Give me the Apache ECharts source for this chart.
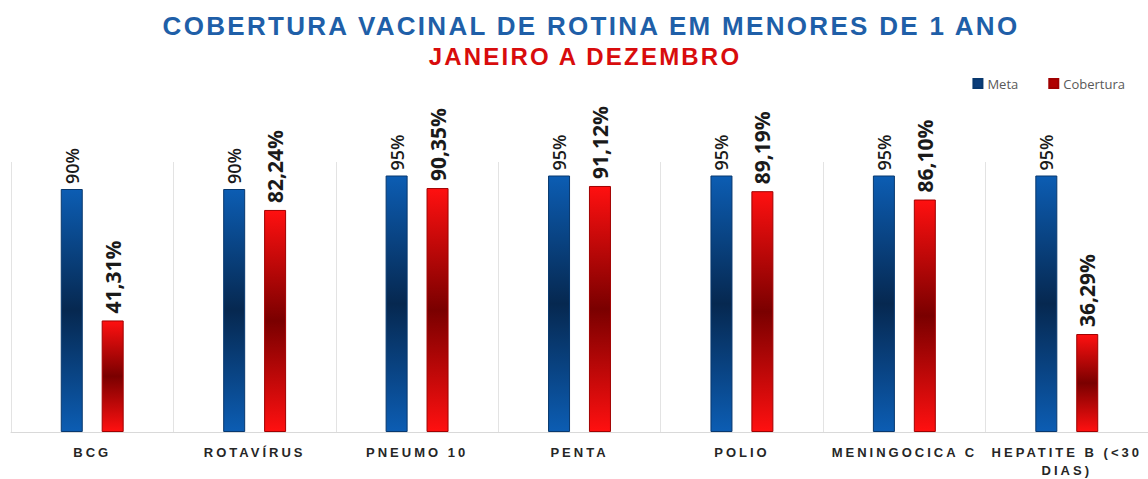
<!DOCTYPE html>
<html>
<head>
<meta charset="utf-8">
<script src="https://cdn.jsdelivr.net/npm/echarts@6/dist/echarts.min.js"></script>
<style>
  html, body { margin: 0; padding: 0; background: #fff; }
  #chart { width: 1148px; height: 479px; }
  /* espaçamento entre letras dos títulos e das categorias */
  #chart text[fill="#1f5fa8"] { letter-spacing: 2.3px; }
  #chart text[fill="#d80c0c"] { letter-spacing: 2.2px; }
  #chart text[fill="#262626"] { letter-spacing: 3px; }
</style>
</head>
<body>
<div id="chart"></div>
<script>
const categories = ['BCG', 'ROTAVÍRUS', 'PNEUMO 10', 'PENTA', 'POLIO', 'MENINGOCICA C', 'HEPATITE B (<30\nDIAS)']
const meta = [90, 90, 95, 95, 95, 95, 95]
const cobertura = [41.31, 82.24, 90.35, 91.12, 89.19, 86.10, 36.29]

const chart = echarts.init(document.querySelector('#chart'), null, { renderer: 'svg' })

// barras com sombreado escuro no meio
function shade(light, dark) {
  return new echarts.graphic.LinearGradient(0, 0, 0, 1, [
    { offset: 0, color: light },
    { offset: 0.5, color: dark },
    { offset: 1, color: light }
  ])
}

const option = {
  title: [
    {
      text: 'COBERTURA VACINAL DE ROTINA EM MENORES DE 1 ANO',
      left: 586, top: 8, textAlign: 'center',
      textStyle: { fontFamily: 'Liberation Sans', fontWeight: 'bold', fontSize: 26, color: '#1f5fa8' }
    },
    {
      text: 'JANEIRO A DEZEMBRO',
      left: 580, top: 39, textAlign: 'center',
      textStyle: { fontFamily: 'Liberation Sans', fontWeight: 'bold', fontSize: 24, color: '#d80c0c' }
    }
  ],
  legend: {
    right: 18, top: 72,
    itemWidth: 9, itemHeight: 9, itemGap: 30,
    icon: 'rect',
    textStyle: { fontFamily: 'Open Sans', fontSize: 13, color: '#595959' },
    data: [
      { name: 'Meta', itemStyle: { color: '#0b3d7a' } },
      { name: 'Cobertura', itemStyle: { color: '#b00000' } }
    ]
  },
  grid: { left: 11, right: 0, top: 162, bottom: 45 },
  xAxis: {
    type: 'category',
    data: categories,
    axisTick: { show: false },
    axisLine: { lineStyle: { color: '#d9d9d9' } },
    splitLine: { show: true, lineStyle: { color: '#e3e3e3' } },
    axisLabel: {
      interval: 0, margin: 11, lineHeight: 18,
      fontFamily: 'Liberation Sans', fontWeight: 'bold', fontSize: 13, color: '#262626'
    }
  },
  yAxis: { type: 'value', min: 0, max: 100, show: false },
  series: [
    {
      name: 'Meta', type: 'bar', data: meta,
      barWidth: 22, barGap: '86%',
      itemStyle: { color: shade('#0c5db3', '#062850'), borderColor: '#08386e', borderWidth: 1 },
      label: {
        show: true, position: 'top', rotate: 90, align: 'left', verticalAlign: 'middle', distance: 5,
        formatter: p => p.value + '%',
        fontFamily: 'Open Sans', fontWeight: 600, fontSize: 18, color: '#1a1a1a'
      }
    },
    {
      name: 'Cobertura', type: 'bar', data: cobertura,
      barWidth: 22,
      itemStyle: { color: shade('#ff1010', '#7a0000'), borderColor: '#a00000', borderWidth: 1 },
      label: {
        show: true, position: 'top', rotate: 90, align: 'left', verticalAlign: 'middle', distance: 7,
        formatter: p => p.value.toFixed(2).replace('.', ',') + '%',
        fontFamily: 'Open Sans', fontWeight: 'bold', fontSize: 21, color: '#1a1a1a'
      }
    }
  ]
}
chart.setOption(option)
</script>
</body>
</html>
